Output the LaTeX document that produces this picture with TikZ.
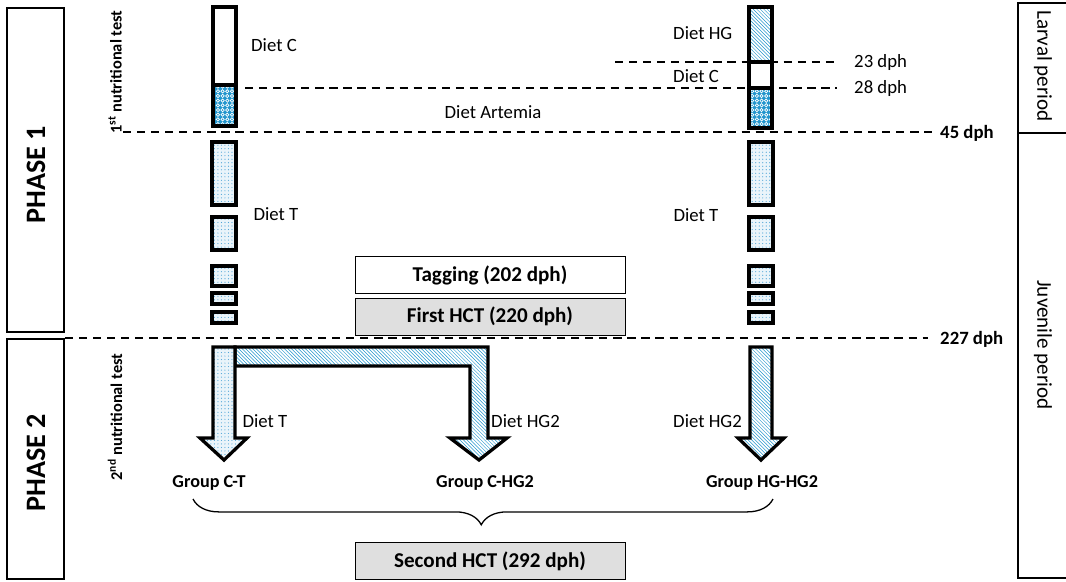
\documentclass[tikz,border=0pt]{standalone}
\usepackage{fontspec}
\setmainfont{Carlito}
\usetikzlibrary{positioning,patterns,decorations.pathreplacing}
\definecolor{dietblue}{RGB}{35,150,205}
\definecolor{dotblue}{RGB}{80,165,215}
\definecolor{hctgray}{RGB}{223,223,223}
\pgfdeclarepatternformonly{bubbles}{\pgfqpoint{-1pt}{-1pt}}{\pgfqpoint{5pt}{5pt}}{\pgfqpoint{4pt}{4pt}}{%
 \pgfsetlinewidth{0.6pt}%
 \pgfpathcircle{\pgfqpoint{2pt}{2pt}}{1.4pt}\pgfusepath{stroke}}

\begin{document}
\begin{tikzpicture}[x=0.03cm,y=-0.03cm]
 \tikzset{
  bar/.style={draw,line width=2.8pt,line join=miter},
  dietC/.style={bar,fill=white},
  dietT/.style={bar,preaction={fill=dotblue!12},pattern=dots,pattern color=dotblue},
  dietHG/.style={bar,preaction={fill=white},pattern=north west lines,pattern color=dietblue},
  artemia/.style={bar,preaction={fill=dietblue},pattern=bubbles,pattern color=white},
  daysline/.style={dash pattern=on 7pt off 5pt,line width=1.3pt},
  lbl/.style={font=\fontsize{16}{19}\selectfont,inner sep=0pt},
  blbl/.style={lbl,font=\fontsize{16}{19}\selectfont\bfseries},
  grp/.style={font=\fontsize{15.5}{18}\selectfont\bfseries,inner sep=0pt},
  hct/.style={draw,line width=0.8pt,minimum width=270*0.03cm,minimum height=37*0.03cm,
   font=\fontsize{18}{21}\selectfont\bfseries,inner sep=0pt},
  phase/.style={font=\fontsize{24}{28}\selectfont\bfseries,rotate=90},
  test/.style={font=\fontsize{14}{16}\selectfont\bfseries,rotate=90},
  period/.style={font=\fontsize{18}{21}\selectfont,rotate=-90},
 }
 \useasboundingbox (0,0) rectangle (1066,581);

 % phases and periods
 \draw[line width=1.4pt] (7,8) rectangle (64,332);
 \draw[line width=1.4pt] (7,339) rectangle (64,579);
 \node[phase] (phaseA) at (36,175) {PHASE 1};
 \node[phase] (phaseB) at (36,463) {PHASE 2};
 \node[test] (testA) at (115,72) {1\textsuperscript{st} nutritional test};
 \node[test] (testB) at (115,417) {2\textsuperscript{nd} nutritional test};
 \draw[line width=1.2pt] (1066,3) -| (1018,578) -- (1066,578);
 \draw[line width=1.2pt] (1018,133) -- (1066,133);
 \node[period] (larval) at (1043,66) {Larval period};
 \node[period] (juvenile) at (1043,345) {Juvenile period};

 % larval diets
 \draw[dietC] (213,7) rectangle (236,85);
 \draw[artemia] (213,85) rectangle (236,126);
 \draw[dietHG] (749,7) rectangle (772,62);
 \draw[dietC] (749,62) rectangle (772,88);
 \draw[artemia] (749,88) rectangle (772,128);

 \node[lbl] (dietCa) at (274,45) {Diet C};
 \node[lbl,anchor=west] (dietHG) at (673,33) {Diet HG};
 \node[lbl,anchor=west] (dietCb) at (673,76) {Diet C};
 \node[lbl] (artemia) at (493,112) {Diet Artemia};

 \draw[daysline] (615,62) -- (837,62);
 \draw[daysline] (245,88) -- (837,88);
 \draw[daysline] (123,132) -- (932,132);
 \draw[daysline] (65,338) -- (928,338);
 \node[lbl,anchor=west] (d23) at (854,62) {23 dph};
 \node[lbl,anchor=west] (d28) at (854,88) {28 dph};
 \node[blbl,anchor=west] (d45) at (940,133) {45 dph};
 \node[blbl,anchor=west] (d227) at (940,339) {227 dph};

 % juvenile diet T
 \foreach \x in {212,749}{
  \draw[dietT] (\x,142) rectangle ++(24,63);
  \draw[dietT] (\x,217) rectangle ++(24,33);
  \draw[dietT] (\x,266) rectangle ++(24,20);
  \draw[dietT] (\x,293) rectangle ++(24,11);
  \draw[dietT] (\x,312) rectangle ++(24,11);
 }
 \node[lbl] (dietTa) at (276,214) {Diet T};
 \node[lbl] (dietTb) at (696,215) {Diet T};

 \node[hct,fill=white] (tagging) at (490,275) {Tagging (202 dph)};
 \node[hct,fill=hctgray] (hctA) at (490,316.5) {First HCT (220 dph)};

 % second nutritional test
 \draw[dietHG] (235,347) -- (488,347) -- (488,438) -- (507,438) -- (479,460)
  -- (450,438) -- (470,438) -- (470,366) -- (235,366) -- cycle;
 \draw[dietT] (213,347) -- (235,347) -- (235,438) -- (247,438) -- (224,460)
  -- (200,438) -- (213,438) -- cycle;
 \draw[dietHG] (750,347) -- (772,347) -- (772,438) -- (784,438) -- (761,460)
  -- (738,438) -- (750,438) -- cycle;
 \node[lbl] (dietTc) at (265,421) {Diet T};
 \node[lbl,anchor=west] (dietHGa) at (491,421) {Diet HG2};
 \node[lbl,anchor=west] (dietHGb) at (673,421) {Diet HG2};

 \node[grp] (grpCT) at (209,483) {Group C-T};
 \node[grp] (grpCHG) at (485,483) {Group C-HG2};
 \node[grp] (grpHGHG) at (762,483) {Group HG-HG2};

 \coordinate (braceL) at (193,499);
 \coordinate (braceR) at (773,499);
 \draw[line width=1.1pt,decorate,decoration={brace,mirror,amplitude=22pt,aspect=0.497}] (braceL) -- (braceR);

 \node[hct,fill=hctgray] (hctB) at (490,561) {Second HCT (292 dph)};
\end{tikzpicture}
\end{document}
